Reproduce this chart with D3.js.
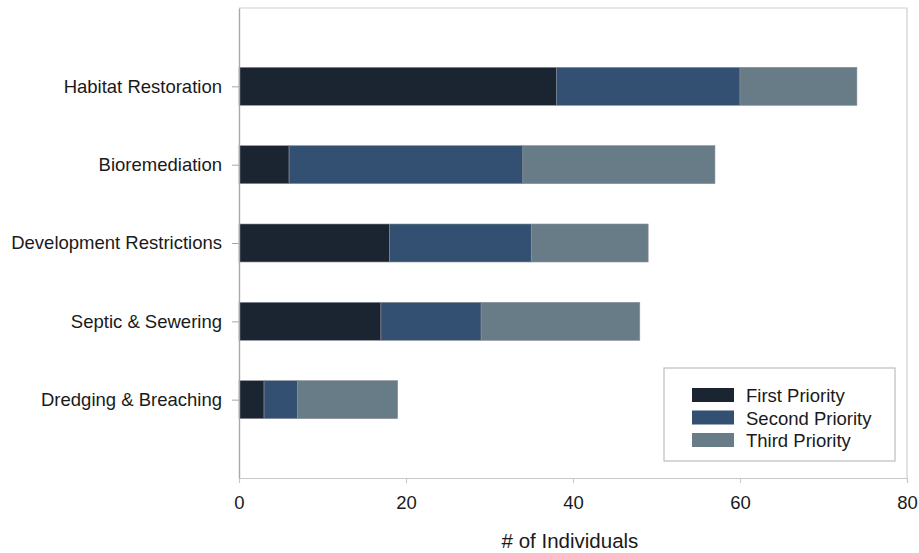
<!DOCTYPE html>
<html>
  <head>
    <meta charset="utf-8" />
    <script src="https://cdn.jsdelivr.net/npm/d3@7"></script>
    <style>
      body {
        margin: 0;
        background: #ffffff;
      }
      svg text {
        font-family: "Liberation Sans", Arial, sans-serif;
        fill: #1a1a1a;
      }
    </style>
  </head>
  <body>
    <svg id="chart" width="919" height="553"></svg>
    <script>
      const categories = [
        "Habitat Restoration",
        "Bioremediation",
        "Development Restrictions",
        "Septic & Sewering",
        "Dredging & Breaching",
      ];
      const seriesNames = ["First Priority", "Second Priority", "Third Priority"];
      const firstPriority = [38, 6, 18, 17, 3];
      const secondPriority = [22, 28, 17, 12, 4];
      const thirdPriority = [14, 23, 14, 19, 12];
      const xTicks = [0, 20, 40, 60, 80];
      const colors = ["#1b2532", "#335073", "#687c88"];

      const svg = d3.select("#chart");
      const plotL = 239, plotR = 907, plotT = 8, plotB = 478;

      const x = d3.scaleLinear().domain([0, 80]).range([plotL, plotR]);
      const y = d3.scalePoint().domain(categories).range([plotT, plotB]).padding(1);
      const barH = 38;

      // rows for stacking
      const rows = categories.map((c, i) => ({
        cat: c,
        "First Priority": firstPriority[i],
        "Second Priority": secondPriority[i],
        "Third Priority": thirdPriority[i],
      }));
      const stacked = d3.stack().keys(seriesNames)(rows);

      // frame (top + right light)
      svg.append("path")
        .attr("d", `M${plotL},${plotT}H${plotR}V${plotB}`)
        .attr("fill", "none")
        .attr("stroke", "#cfcfcf")
        .attr("stroke-width", 1.2);

      svg.append("g")
        .selectAll("g")
        .data(stacked)
        .join("g")
        .attr("fill", (d, i) => colors[i])
        .selectAll("rect")
        .data((d) => d)
        .join("rect")
        .attr("x", (d) => x(d[0]))
        .attr("width", (d) => x(d[1]) - x(d[0]))
        .attr("y", (d) => y(d.data.cat) - barH / 2)
        .attr("height", barH)
        .attr("stroke", "#8a8f96")
        .attr("stroke-width", 0.6);

      // x axis
      const xAxis = svg.append("g")
        .attr("transform", `translate(0,${plotB})`)
        .call(d3.axisBottom(x).tickValues(xTicks).tickSize(5).tickPadding(13));
      xAxis.select(".domain").attr("stroke", "#c8c8c8").attr("stroke-width", 1.2);
      xAxis.selectAll(".tick line").attr("stroke", "#c8c8c8");
      xAxis.selectAll(".tick text").style("font-size", "18.5px").attr("fill", "#1a1a1a");

      // y axis
      const yAxis = svg.append("g")
        .attr("transform", `translate(${plotL},0)`)
        .call(d3.axisLeft(y).tickSize(7).tickPadding(10).tickSizeOuter(0));
      yAxis.select(".domain").attr("stroke", "#a8a8a8").attr("stroke-width", 1.4);
      yAxis.selectAll(".tick line").attr("stroke", "#a8a8a8");
      yAxis.selectAll(".tick text").style("font-size", "18.5px").attr("fill", "#1a1a1a");

      svg.append("text")
        .attr("x", 570)
        .attr("y", 548)
        .attr("text-anchor", "middle")
        .style("font-size", "20.5px")
        .text("# of Individuals");

      // legend
      const lg = svg.append("g").attr("transform", "translate(664,368)");
      lg.append("rect")
        .attr("width", 231)
        .attr("height", 93)
        .attr("fill", "#fff")
        .attr("stroke", "#bdbdbd")
        .attr("stroke-width", 1.2);
      const item = lg.selectAll("g.item")
        .data(seriesNames)
        .join("g")
        .attr("class", "item")
        .attr("transform", (d, i) => `translate(28,${20 + i * 22.5})`);
      item.append("rect")
        .attr("width", 42)
        .attr("height", 14)
        .attr("fill", (d, i) => colors[i]);
      item.append("text")
        .attr("x", 54)
        .attr("y", 14)
        .style("font-size", "18.5px")
        .text((d) => d);
    </script>
  </body>
</html>
